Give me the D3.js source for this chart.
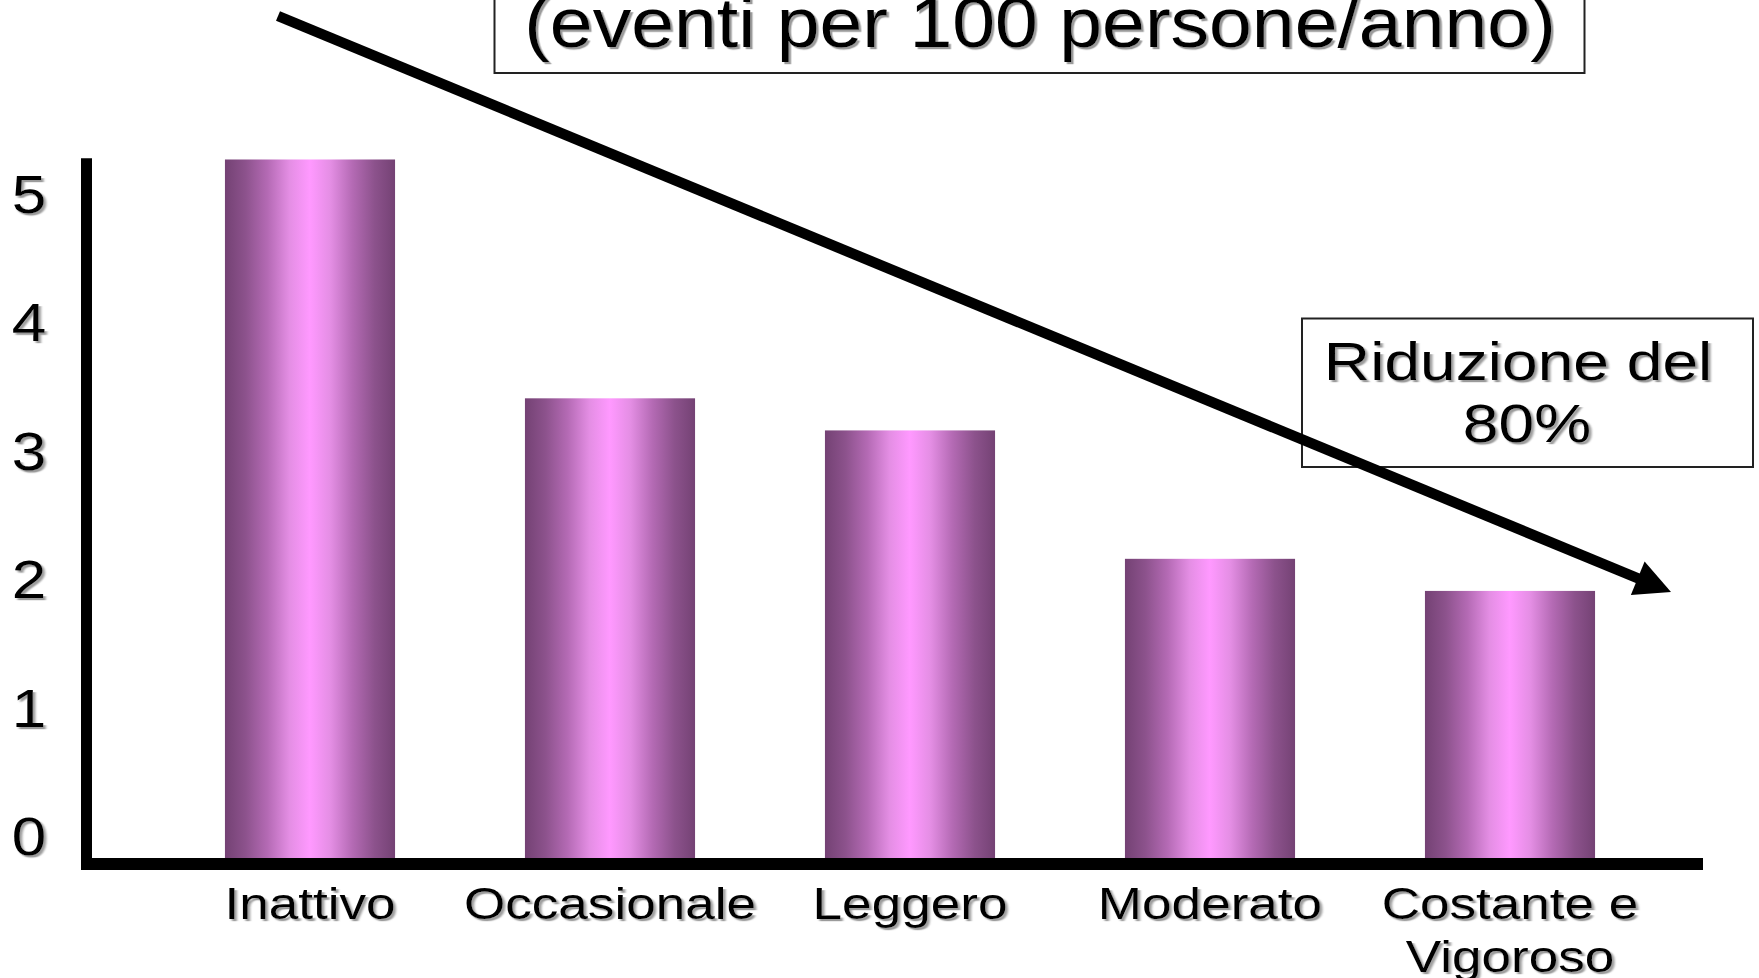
<!DOCTYPE html>
<html>
<head>
<meta charset="utf-8">
<script src="https://cdn.jsdelivr.net/npm/d3@7"></script>
<style>
  html, body { margin: 0; padding: 0; background: #ffffff; }
  svg { display: block; }
  text { font-family: "Liberation Sans", Arial, Helvetica, sans-serif; fill: #000; white-space: pre; }
</style>
</head>
<body>
<svg id="chart" width="1759" height="978"></svg>
<script>
// Coronary events by physical-activity level (events per 100 persons/year)
const categories = ["Inattivo", "Occasionale", "Leggero", "Moderato", "Costante e\nVigoroso"];
const values = [5.44, 3.58, 3.33, 2.33, 2.08];
const yTicks = [0, 1, 2, 3, 4, 5];
const titleText = "(eventi per 100 persone/anno)";
const noteLines = ["Riduzione del ", "80%"];

const svg = d3.select("#chart");
const W = 1759, H = 978;
svg.append("rect").attr("width", W).attr("height", H).attr("fill", "#fff");

const defs = svg.append("defs");

// soft grey drop shadow used behind all text
const shadow = defs.append("filter").attr("id", "txtShadow")
  .attr("x", "-5%").attr("y", "-20%").attr("width", "115%").attr("height", "150%");
shadow.append("feDropShadow")
  .attr("dx", 2.2).attr("dy", 2.2).attr("stdDeviation", 0.7)
  .attr("flood-color", "#8a8a8a").attr("flood-opacity", 0.85);

// cylinder-like horizontal shading for the bars
const grad = defs.append("linearGradient").attr("id", "barGrad")
  .attr("x1", "0%").attr("x2", "100%").attr("y1", "0%").attr("y2", "0%");
[
  [0.00, "#744274"], [0.12, "#8c528c"], [0.25, "#b46ab4"], [0.38, "#e48ee4"],
  [0.50, "#ff99ff"], [0.62, "#e48ee4"], [0.75, "#b46ab4"], [0.88, "#8c528c"], [1.00, "#744274"]
].forEach(([o, c]) => grad.append("stop").attr("offset", o).attr("stop-color", c));

// scales
const x = d3.scaleBand()
  .domain(categories)
  .range([160, 1660])
  .paddingInner(0.433)
  .paddingOuter(0.2165);

const y = d3.scaleLinear()
  .domain([0, 5.45])
  .range([858, 158.2]);

// bars
svg.append("g").selectAll("rect")
  .data(categories.map((c, i) => ({ c, v: values[i] })))
  .join("rect")
  .attr("x", d => x(d.c))
  .attr("width", x.bandwidth())
  .attr("y", d => y(d.v))
  .attr("height", d => y(0) - y(d.v))
  .attr("fill", "url(#barGrad)");

// axis lines
const axisG = svg.append("g");
axisG.append("line")
  .attr("x1", 86.5).attr("x2", 86.5)
  .attr("y1", y.range()[1]).attr("y2", y(0) + 11)
  .attr("stroke", "#000").attr("stroke-width", 11);
axisG.append("line")
  .attr("x1", 81).attr("x2", 1703)
  .attr("y1", y(0) + 6).attr("y2", y(0) + 6)
  .attr("stroke", "#000").attr("stroke-width", 12);

// helper: horizontally widened text block
function wideText(parent, tx, ty, str, size, sx) {
  const g = parent.append("g")
    .attr("transform", `translate(${tx},${ty}) scale(${sx},1)`)
    .attr("filter", "url(#txtShadow)");
  g.append("text")
    .attr("text-anchor", "middle")
    .attr("font-size", size)
    .text(str);
  return g;
}

// y tick labels (sit just above each tick value)
const tickG = svg.append("g");
yTicks.forEach(t => wideText(tickG, 29, y(t) - 3, d3.format("d")(t), 53, 1.17));

// category labels
const catG = svg.append("g");
categories.forEach(c => {
  const lines = c.split("\n");
  lines.forEach((ln, j) => {
    wideText(catG, x(c) + x.bandwidth() / 2, 919 + j * 52.5, ln, 45, 1.18);
  });
});

// title box (partly above the top edge)
svg.append("rect")
  .attr("x", 494.5).attr("y", -40).attr("width", 1090).attr("height", 113)
  .attr("fill", "none").attr("stroke", "#222").attr("stroke-width", 2);
wideText(svg, 1040, 47, titleText, 70, 1.1);

// annotation box
svg.append("rect")
  .attr("x", 1302).attr("y", 318.5).attr("width", 451).attr("height", 148.5)
  .attr("fill", "none").attr("stroke", "#222").attr("stroke-width", 2);
noteLines.forEach((ln, j) => wideText(svg, 1527, 380 + j * 62, ln, 53, 1.21));

// downward trend arrow
const start = [278, 16], tip = [1671, 592];
const ang = Math.atan2(tip[1] - start[1], tip[0] - start[0]);
const headLen = 36, headHalf = 18;
const base = [tip[0] - headLen * Math.cos(ang), tip[1] - headLen * Math.sin(ang)];
svg.append("line")
  .attr("x1", start[0]).attr("y1", start[1])
  .attr("x2", base[0] + 2 * Math.cos(ang)).attr("y2", base[1] + 2 * Math.sin(ang))
  .attr("stroke", "#000").attr("stroke-width", 10.5);
const nx = -Math.sin(ang), ny = Math.cos(ang);
svg.append("path")
  .attr("d", d3.line()([
    tip,
    [base[0] + nx * headHalf, base[1] + ny * headHalf],
    [base[0] - nx * headHalf, base[1] - ny * headHalf]
  ]) + "Z")
  .attr("fill", "#000");
</script>
</body>
</html>
